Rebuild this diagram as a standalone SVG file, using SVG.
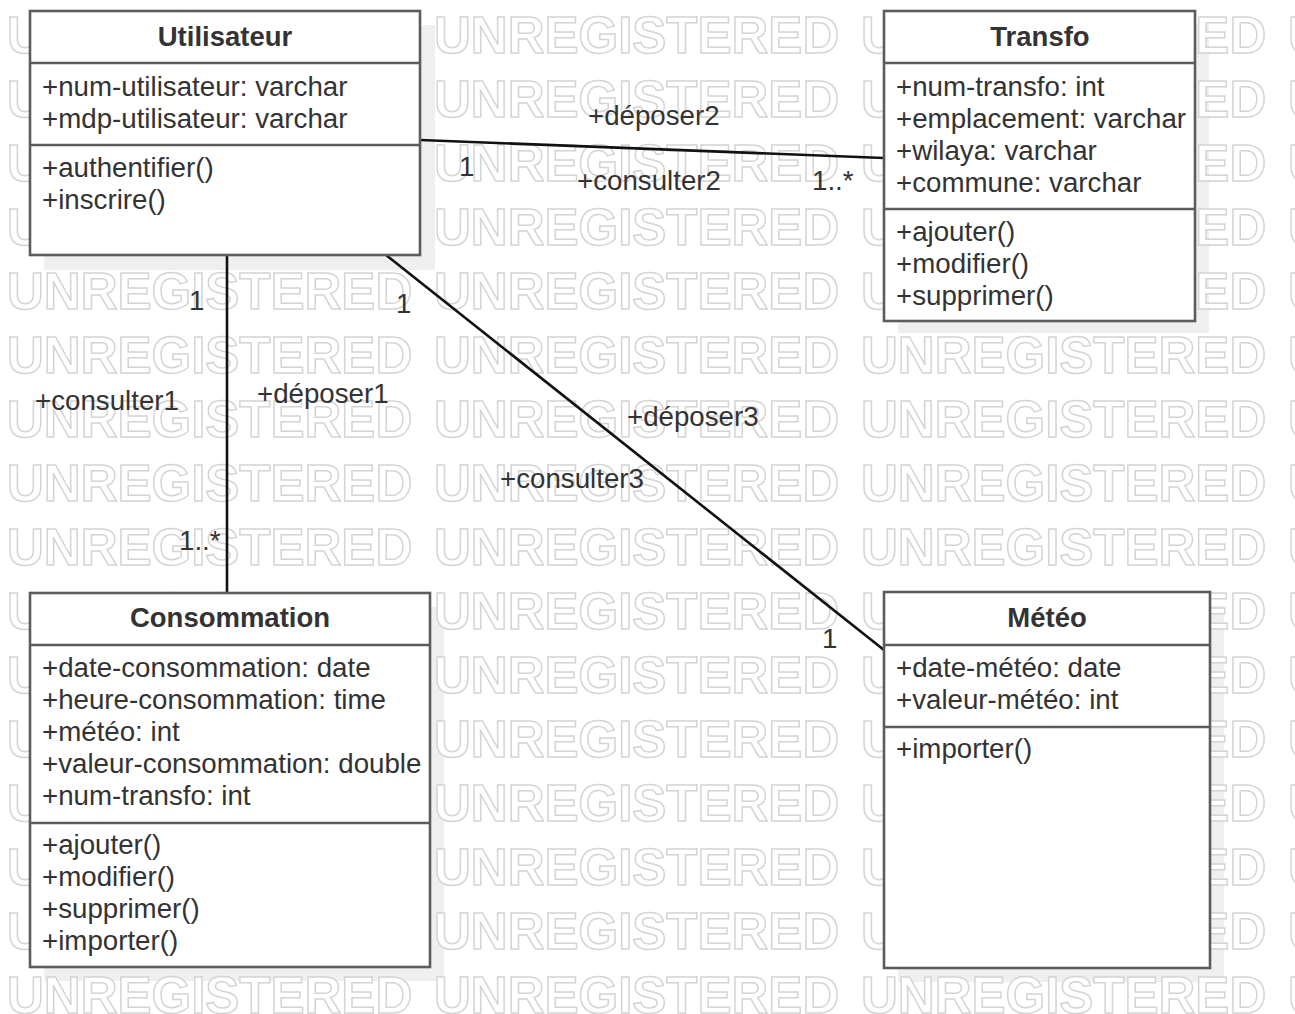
<svg xmlns="http://www.w3.org/2000/svg" width="1295" height="1014" viewBox="0 0 1295 1014">
  <style>
    text { font-family: "Liberation Sans", Arial, sans-serif; fill: #333; }
    .wm { font-size: 51px; font-weight: bold; fill: #fff; stroke: #d4d4d4; stroke-width: 1.5; }
    .box { fill: #fff; stroke: #5c5c5c; stroke-width: 2.6; }
    .sep { stroke: #5c5c5c; stroke-width: 2.6; }
    .shadow { fill: #efefef; }
    .title { font-size: 27.5px; font-weight: bold; text-anchor: middle; }
    .item { font-size: 27.7px; }
    .lbl { font-size: 27.7px; }
    .edge { stroke: #111; stroke-width: 2.6; fill: none; }
  </style>
  <defs>
    <pattern id="wm" patternUnits="userSpaceOnUse" x="0" y="0" width="427" height="64">
      <text class="wm" x="7" y="53">UNREGISTERED</text>
    </pattern>
  </defs>

  <rect width="1295" height="1014" fill="#fff"/>

  <!-- drop shadows of the class boxes -->
  <g id="shadows">
    <rect class="shadow" x="44" y="25" width="391" height="245"/>
    <rect class="shadow" x="898" y="24" width="311" height="309"/>
    <rect class="shadow" x="44" y="607" width="400" height="374"/>
    <rect class="shadow" x="898" y="606" width="326" height="376"/>
  </g>

  <!-- background stamp -->
  <rect width="1295" height="1014" fill="url(#wm)"/>

  <g id="connectors">
    <!-- Utilisateur - Transfo -->
    <line class="edge" x1="420" y1="140" x2="884" y2="158"/>
    <text class="lbl" x="588" y="125">+déposer2</text>
    <text class="lbl" x="577" y="190">+consulter2</text>
    <text class="lbl" x="459" y="176">1</text>
    <text class="lbl" x="812" y="190">1..*</text>

    <!-- Utilisateur - Consommation -->
    <line class="edge" x1="227" y1="255" x2="227" y2="593"/>
    <text class="lbl" x="189" y="310">1</text>
    <text class="lbl" x="35" y="410">+consulter1</text>
    <text class="lbl" x="257" y="403">+déposer1</text>
    <text class="lbl" x="179" y="550">1..*</text>

    <!-- Utilisateur - Météo -->
    <line class="edge" x1="386" y1="255" x2="884" y2="650"/>
    <text class="lbl" x="396" y="313">1</text>
    <text class="lbl" x="627" y="426">+déposer3</text>
    <text class="lbl" x="500" y="488">+consulter3</text>
    <text class="lbl" x="822" y="648">1</text>
  </g>

  <g id="utilisateur">
    <rect class="box" x="30" y="11" width="390" height="244"/>
    <line class="sep" x1="30" y1="63" x2="420" y2="63"/>
    <line class="sep" x1="30" y1="145" x2="420" y2="145"/>
    <text class="title" x="225" y="46">Utilisateur</text>
    <text class="item" x="42" y="96">+num-utilisateur: varchar</text>
    <text class="item" x="42" y="128">+mdp-utilisateur: varchar</text>
    <text class="item" x="42" y="177">+authentifier()</text>
    <text class="item" x="42" y="209">+inscrire()</text>
  </g>

  <g id="transfo">
    <rect class="box" x="884" y="11" width="311" height="310"/>
    <line class="sep" x1="884" y1="63" x2="1195" y2="63"/>
    <line class="sep" x1="884" y1="209" x2="1195" y2="209"/>
    <text class="title" x="1040" y="46">Transfo</text>
    <text class="item" x="896" y="96">+num-transfo: int</text>
    <text class="item" x="896" y="128">+emplacement: varchar</text>
    <text class="item" x="896" y="160">+wilaya: varchar</text>
    <text class="item" x="896" y="192">+commune: varchar</text>
    <text class="item" x="896" y="241">+ajouter()</text>
    <text class="item" x="896" y="273">+modifier()</text>
    <text class="item" x="896" y="305">+supprimer()</text>
  </g>

  <g id="consommation">
    <rect class="box" x="30" y="593" width="400" height="374"/>
    <line class="sep" x1="30" y1="645" x2="430" y2="645"/>
    <line class="sep" x1="30" y1="823" x2="430" y2="823"/>
    <text class="title" x="230" y="627">Consommation</text>
    <text class="item" x="42" y="677">+date-consommation: date</text>
    <text class="item" x="42" y="709">+heure-consommation: time</text>
    <text class="item" x="42" y="741">+météo: int</text>
    <text class="item" x="42" y="773">+valeur-consommation: double</text>
    <text class="item" x="42" y="805">+num-transfo: int</text>
    <text class="item" x="42" y="854">+ajouter()</text>
    <text class="item" x="42" y="886">+modifier()</text>
    <text class="item" x="42" y="918">+supprimer()</text>
    <text class="item" x="42" y="950">+importer()</text>
  </g>

  <g id="meteo">
    <rect class="box" x="884" y="592" width="326" height="376"/>
    <line class="sep" x1="884" y1="645" x2="1210" y2="645"/>
    <line class="sep" x1="884" y1="727" x2="1210" y2="727"/>
    <text class="title" x="1047" y="627">Météo</text>
    <text class="item" x="896" y="677">+date-météo: date</text>
    <text class="item" x="896" y="709">+valeur-météo: int</text>
    <text class="item" x="896" y="758">+importer()</text>
  </g>
</svg>
